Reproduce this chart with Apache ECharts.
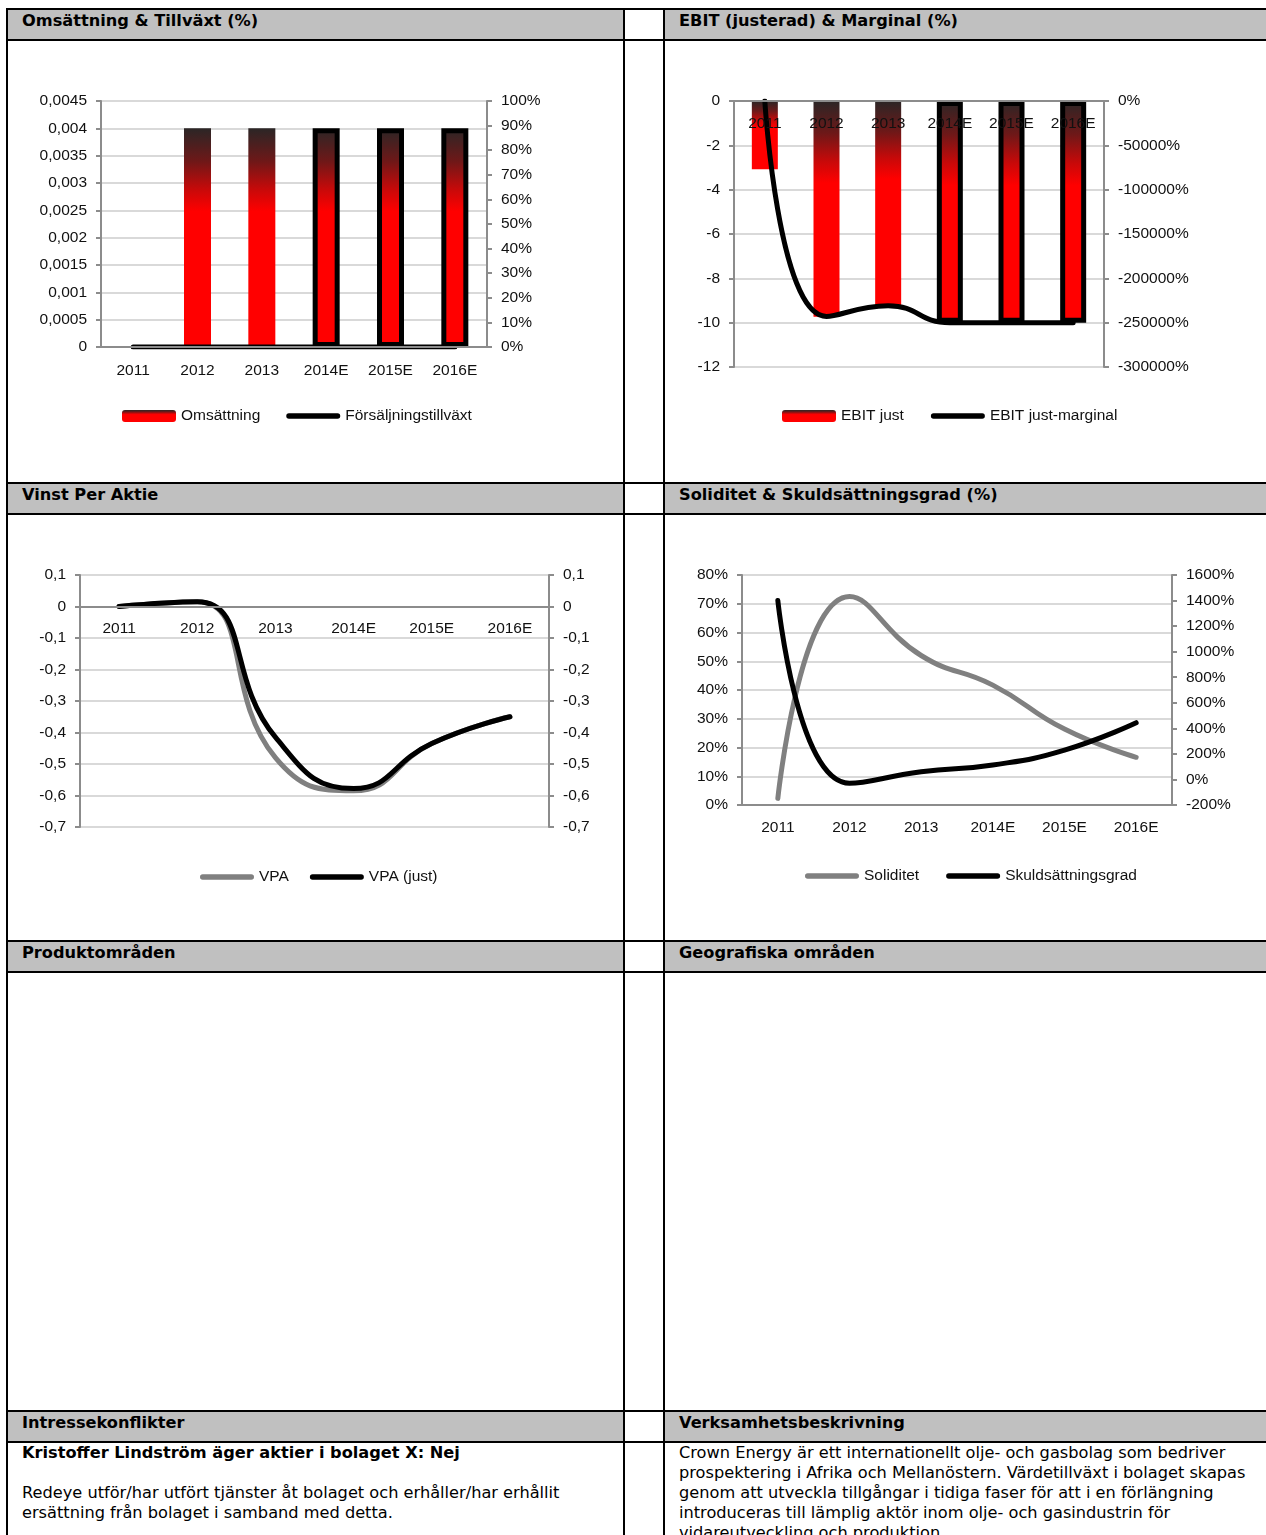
<!DOCTYPE html>
<html>
<head>
<meta charset="utf-8">
<script src="https://cdn.jsdelivr.net/npm/echarts@6/dist/echarts.min.js"></script>
<style>
  body { margin: 0; background: #fff; }
  #page { position: relative; width: 1266px; height: 1535px; overflow: hidden; font-family: 'DejaVu Sans', Verdana, sans-serif; color: #000; }
  .vl { position: absolute; top: 8px; bottom: 0; width: 2px; background: #000; }
  .band { position: absolute; left: 6px; right: 0; height: 29px; border-top: 2px solid #000; border-bottom: 2px solid #000; }
  .band .fill { position: absolute; top: 0; bottom: 0; background: #c0c0c0; }
  .band .t { position: absolute; top: 3px; font-weight: bold; font-size: 16.2px; line-height: 16px; white-space: nowrap; }
  .chart { position: absolute; }
  .txt { position: absolute; font-size: 16.2px; line-height: 20px; white-space: nowrap; }
</style>
</head>
<body>
<div id="page">
  <div class="band" style="top:8px"><div class="fill" style="left:2px;width:615px"></div><div class="fill" style="left:659px;right:0"></div>
    <div class="t" style="left:16px">Omsättning &amp; Tillväxt (%)</div><div class="t" style="left:673px">EBIT (justerad) &amp; Marginal (%)</div></div>
  <div class="band" style="top:482px"><div class="fill" style="left:2px;width:615px"></div><div class="fill" style="left:659px;right:0"></div>
    <div class="t" style="left:16px">Vinst Per Aktie</div><div class="t" style="left:673px">Soliditet &amp; Skuldsättningsgrad (%)</div></div>
  <div class="band" style="top:940px"><div class="fill" style="left:2px;width:615px"></div><div class="fill" style="left:659px;right:0"></div>
    <div class="t" style="left:16px">Produktområden</div><div class="t" style="left:673px">Geografiska områden</div></div>
  <div class="band" style="top:1410px"><div class="fill" style="left:2px;width:615px"></div><div class="fill" style="left:659px;right:0"></div>
    <div class="t" style="left:16px">Intressekonflikter</div><div class="t" style="left:673px">Verksamhetsbeskrivning</div></div>
  <div class="vl" style="left:6px"></div>
  <div class="vl" style="left:623px"></div>
  <div class="vl" style="left:663px"></div>

  <div id="c1" class="chart" style="left:8px;top:43px;width:615px;height:439px"></div>
  <div id="c2" class="chart" style="left:665px;top:43px;width:601px;height:439px"></div>
  <div id="c3" class="chart" style="left:8px;top:515px;width:615px;height:425px"></div>
  <div id="c4" class="chart" style="left:665px;top:515px;width:601px;height:425px"></div>

  <div class="txt" style="left:22px;top:1443px"><b>Kristoffer Lindström äger aktier i bolaget X: Nej</b><br><br>Redeye utför/har utfört tjänster åt bolaget och erhåller/har erhållit<br>ersättning från bolaget i samband med detta.</div>
  <div class="txt" style="left:679px;top:1443px">Crown Energy är ett internationellt olje- och gasbolag som bedriver<br>prospektering i Afrika och Mellanöstern. Värdetillväxt i bolaget skapas<br>genom att utveckla tillgångar i tidiga faser för att i en förlängning<br>introduceras till lämplig aktör inom olje- och gasindustrin för<br>vidareutveckling och produktion.</div>
</div>
<script>
const years = ['2011', '2012', '2013', '2014E', '2015E', '2016E']

// Omsättning & Tillväxt
const omsattning = [0, 0.004, 0.004, 0.004, 0.004, 0.004]
const tillvaxt = [0, 0, 0, 0, 0, 0]

// EBIT (justerad) & Marginal
const ebitJust = [-3.08, -9.73, -9.25, -10, -10, -10]
const ebitMarginal = [0, -243000, -231000, -250000, -250000, -250000]

// Vinst per aktie
const vpa = [0, 0.015, -0.48, -0.585, -0.435, -0.35]
const vpaJust = [0, 0.015, -0.415, -0.578, -0.435, -0.35]

// Soliditet & Skuldsättningsgrad (%)
const soliditet = [2.3, 72.5, 52, 41.7, 26.4, 16.6]
const skuldsattning = [1400, -30, 60, 113, 230, 444]

const FONT = "'Liberation Sans', Arial, sans-serif"
const FSIZE = 15.5
const TXT = '#111'
const AXIS = '#8c8c8c'
const GRID = '#d9d9d9'
const LINE_ICON = 'path://M3,0H57A3,3,0,0,1,57,6H3A3,3,0,0,1,3,0Z'

const comma = v => String(+v.toFixed(4)).replace('.', ',')
const pct = v => Math.round(v) + '%'

// röd gradient för staplarna
const barColor = () => new echarts.graphic.LinearGradient(0, 0, 0, 1, [
  { offset: 0, color: '#2b2626' },
  { offset: 0.15, color: '#6e1818' },
  { offset: 0.28, color: '#c80909' },
  { offset: 0.38, color: '#ff0000' },
  { offset: 1, color: '#ff0000' }
])

// prognosår får svart ram
const barItems = values => values.map((v, i) => years[i].endsWith('E')
  ? { value: v, itemStyle: { borderColor: '#000', borderWidth: 5 } }
  : v)

// x-axeln ligger vid noll på vänster värdeaxel
const xAxis = (margin, gridHeight, min, max) => ({
  type: 'category',
  data: years,
  z: 10,
  offset: min < 0 ? -gridHeight * (0 - min) / (max - min) : 0,
  axisLine: { onZero: false, lineStyle: { color: AXIS, width: 2 } },
  axisTick: { length: 6, lineStyle: { color: AXIS, width: 2 } },
  axisLabel: { color: TXT, fontSize: FSIZE, fontFamily: FONT, margin, interval: 0 }
})

const valAxis = (min, max, interval, formatter, right) => ({
  type: 'value',
  min, max, interval,
  position: right ? 'right' : 'left',
  axisLine: { show: true, lineStyle: { color: AXIS, width: 2 } },
  axisTick: { show: true, length: 5, lineStyle: { color: AXIS, width: 2 } },
  splitLine: { show: !right, lineStyle: { color: GRID, width: 2 } },
  axisLabel: { color: TXT, fontSize: FSIZE, fontFamily: FONT, margin: 14, formatter }
})

const legend = (left, top, gap, names) => ({
  left, top,
  itemWidth: 54,
  itemHeight: 12,
  itemGap: gap,
  symbolKeepAspect: true,
  data: names.map((name, i) => i === 0 && names.bar ? { name } : { name, icon: LINE_ICON }),
  textStyle: { color: TXT, fontSize: FSIZE, fontFamily: FONT }
})

const withBar = names => Object.assign(names, { bar: true })

const lineSeries = (name, data, color, yAxisIndex) => ({
  name, type: 'line', data, yAxisIndex,
  smooth: 0.5,
  symbol: 'none',
  lineStyle: { color, width: 5, cap: 'round' },
  itemStyle: { color }
})

const makeChart = (id, option) => {
  const chart = echarts.init(document.getElementById(id), null, { renderer: 'canvas' })
  chart.setOption(Object.assign({ animation: false }, option))
  return chart
}

makeChart('c1', {
  grid: { left: 93, top: 58, width: 386, height: 246 },
  legend: legend(109, 360, 26, withBar(['Omsättning', 'Försäljningstillväxt'])),
  xAxis: xAxis(16, 246, 0, 0.0045),
  yAxis: [
    valAxis(0, 0.0045, 0.0005, comma, false),
    valAxis(0, 100, 10, pct, true)
  ],
  series: [
    { name: 'Omsättning', type: 'bar', data: barItems(omsattning), barWidth: 27, itemStyle: { color: barColor() } },
    lineSeries('Försäljningstillväxt', tillvaxt, '#000', 1)
  ]
})

makeChart('c2', {
  grid: { left: 69, top: 58, width: 370, height: 266 },
  legend: legend(112, 360, 27, withBar(['EBIT just', 'EBIT just-marginal'])),
  xAxis: xAxis(15, 266, -12, 0),
  yAxis: [
    valAxis(-12, 0, 2, v => String(v), false),
    valAxis(-300000, 0, 50000, pct, true)
  ],
  series: [
    { name: 'EBIT just', type: 'bar', data: barItems(ebitJust), barWidth: 26, itemStyle: { color: barColor() } },
    lineSeries('EBIT just-marginal', ebitMarginal, '#000', 1)
  ]
})

makeChart('c3', {
  grid: { left: 72, top: 60, width: 469, height: 252 },
  legend: legend(187, 349, 21, ['VPA', 'VPA (just)']),
  xAxis: xAxis(14, 252, -0.7, 0.1),
  yAxis: [
    valAxis(-0.7, 0.1, 0.1, comma, false),
    valAxis(-0.7, 0.1, 0.1, comma, true)
  ],
  series: [
    lineSeries('VPA', vpa, '#808080', 0),
    lineSeries('VPA (just)', vpaJust, '#000', 0)
  ]
})

makeChart('c4', {
  grid: { left: 77, top: 60, width: 430, height: 230 },
  legend: legend(135, 348, 27, ['Soliditet', 'Skuldsättningsgrad']),
  xAxis: xAxis(15, 230, 0, 80),
  yAxis: [
    valAxis(0, 80, 10, pct, false),
    valAxis(-200, 1600, 200, pct, true)
  ],
  series: [
    lineSeries('Soliditet', soliditet, '#808080', 0),
    lineSeries('Skuldsättningsgrad', skuldsattning, '#000', 1)
  ]
})
</script>
</body>
</html>
